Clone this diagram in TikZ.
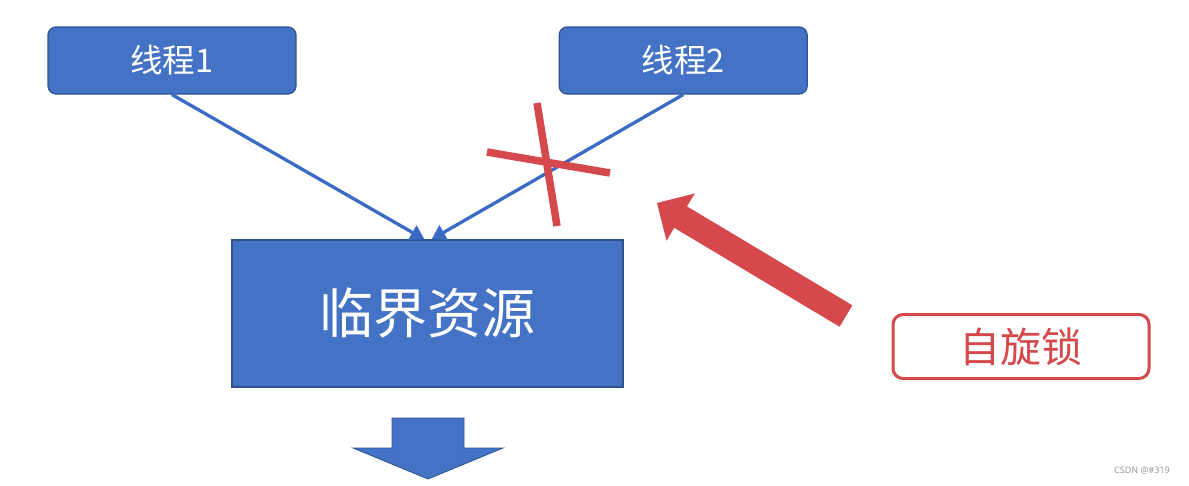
\documentclass[tikz,border=0pt]{standalone}
\usepackage{fontspec}
\usepackage{xcolor}
\usepackage{tikz}
\usetikzlibrary{arrows.meta, positioning}
\setmainfont{Noto Sans CJK SC}
\setsansfont{Noto Sans}
\definecolor{boxblue}{HTML}{4472C4}
\definecolor{edgeblue}{HTML}{2F528F}
\definecolor{lineblue}{HTML}{3A6CC6}
\definecolor{lockred}{HTML}{D5484B}

\begin{document}
\begin{tikzpicture}[
  x=1pt, y=-1pt,
  thread/.style={rectangle, rounded corners=8pt, draw=edgeblue, line width=1.2pt, fill=boxblue,
    text=white, minimum width=248pt, minimum height=67pt, font=\fontsize{32.5}{36}\selectfont},
  res/.style={rectangle, draw=edgeblue, line width=1.2pt, fill=boxblue, text=white,
    minimum width=391pt, minimum height=147pt, font=\fontsize{54}{60}\selectfont},
  lock/.style={rectangle, rounded corners=10pt, draw=lockred, line width=3pt, fill=white,
    text=lockred, minimum width=256pt, minimum height=64pt, font=\fontsize{41}{46}\selectfont},
  link/.style={-{Triangle[length=14pt, width=16pt]}, draw=lineblue, line width=3.3pt},
  cross/.style={draw=lockred, line width=7.5pt}
]
\useasboundingbox (0,0) rectangle (1189,485);

\node[thread] (t1) at (172,60.5) {线程1};
\node[thread, right=262pt of t1] (t2) {线程2};
\node[res] (crit) at (427.5,313.5) {临界资源};
\node[lock] (spin) at (1021,346.5) {自旋锁};

\draw[link] (t1.south) -- ([xshift=-3pt]crit.north);
\draw[link] (t2.south) -- ([xshift=4pt]crit.north);

% the cross over thread 2
\draw[cross] (537,103) -- (557,226);
\draw[cross] (487,152) -- (610,173);

% big arrow from the spin lock
\fill[lockred] (852.4,305.3) -- (687.0,206.4) -- (694.7,193.5) -- (657,203)
  -- (666.5,240.7) -- (674.2,227.8) -- (839.6,326.7) -- cycle;

% down arrow under the resource
\filldraw[fill=boxblue, draw=edgeblue, line width=0.8pt]
  (392,418) -- (464,418) -- (464,448) -- (503,448) -- (428,479)
  -- (353,448) -- (392,448) -- cycle;

\node[font=\sffamily\fontsize{9}{10}\selectfont, text=black!40] (mark) at (1142,471) {CSDN @\#319};
\end{tikzpicture}
\end{document}
